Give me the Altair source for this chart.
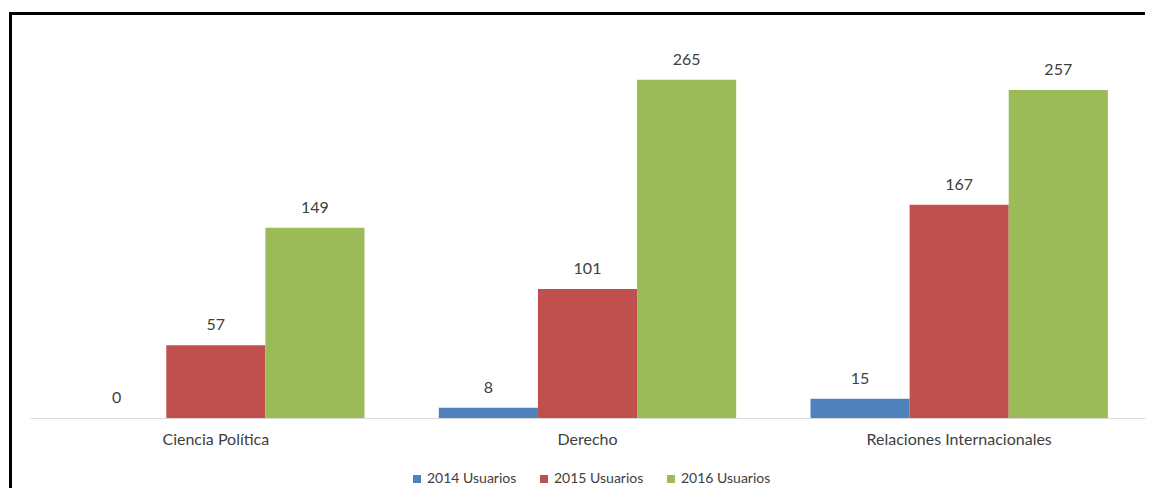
import altair as alt
import pandas as pd

categorias = ["Ciencia Política", "Derecho", "Relaciones Internacionales"]
series = ["2014 Usuarios", "2015 Usuarios", "2016 Usuarios"]
usuarios_2014 = [0, 8, 15]
usuarios_2015 = [57, 101, 167]
usuarios_2016 = [149, 265, 257]
colores = ["#4F81BD", "#C0504D", "#9BBB59"]

rows = []
for s, vals in zip(series, [usuarios_2014, usuarios_2015, usuarios_2016]):
    for c, v in zip(categorias, vals):
        rows.append({"categoria": c, "serie": s, "valor": v})
df = pd.DataFrame(rows)

FONT = "Lato"
TXT = "#404040"

x_enc = alt.X("categoria:N", sort=categorias,
              scale=alt.Scale(paddingInner=0.2, paddingOuter=0.1),
              axis=alt.Axis(title=None, labelAngle=0, ticks=False, labelPadding=13,
                            labelFont=FONT, labelFontSize=16, labelColor=TXT, labelLimit=0,
                            domainColor="#D9D9D9", domainWidth=1.2, grid=False))
xo_enc = alt.XOffset("serie:N", sort=series, scale=alt.Scale(paddingInner=0, paddingOuter=0))
y_enc = alt.Y("valor:Q", scale=alt.Scale(domain=[0, 300]), axis=None)

base = alt.Chart(df)
bars = base.mark_bar().encode(
    x=x_enc, xOffset=xo_enc, y=y_enc,
    color=alt.Color("serie:N", sort=series,
                    scale=alt.Scale(domain=series, range=colores),
                    legend=alt.Legend(title=None, orient="none", direction="horizontal",
                                      legendX=380, legendY=437, padding=0,
                                      symbolType="square", symbolSize=64, symbolStrokeWidth=0,
                                      labelFont=FONT, labelFontSize=14, labelColor=TXT,
                                      labelOffset=3, columnPadding=20)),
)
labels = base.mark_text(dy=-15, baseline="alphabetic", fontSize=16, font=FONT, color=TXT).encode(
    x=x_enc, xOffset=xo_enc, y=y_enc, text=alt.Text("valor:Q")
)

frame = alt.Chart(pd.DataFrame({"k": [0]}))
left_border = frame.mark_rule(color="black", strokeWidth=3).encode(
    x=alt.value(-19.5), y=alt.value(-21.5), y2=alt.value(460))
top_border = frame.mark_rule(color="black", strokeWidth=3).encode(
    x=alt.value(-21), x2=alt.value(1115), y=alt.value(-21.5))

chart = alt.layer(bars, labels, left_border, top_border).properties(
    width=1115, height=383,
    autosize=alt.AutoSizeParams(type="none"),
    padding={"left": 22, "top": 27, "right": 4, "bottom": 70},
).configure_view(stroke=None)

chart.save("out.html", embed_options={"renderer": "svg", "actions": False})
